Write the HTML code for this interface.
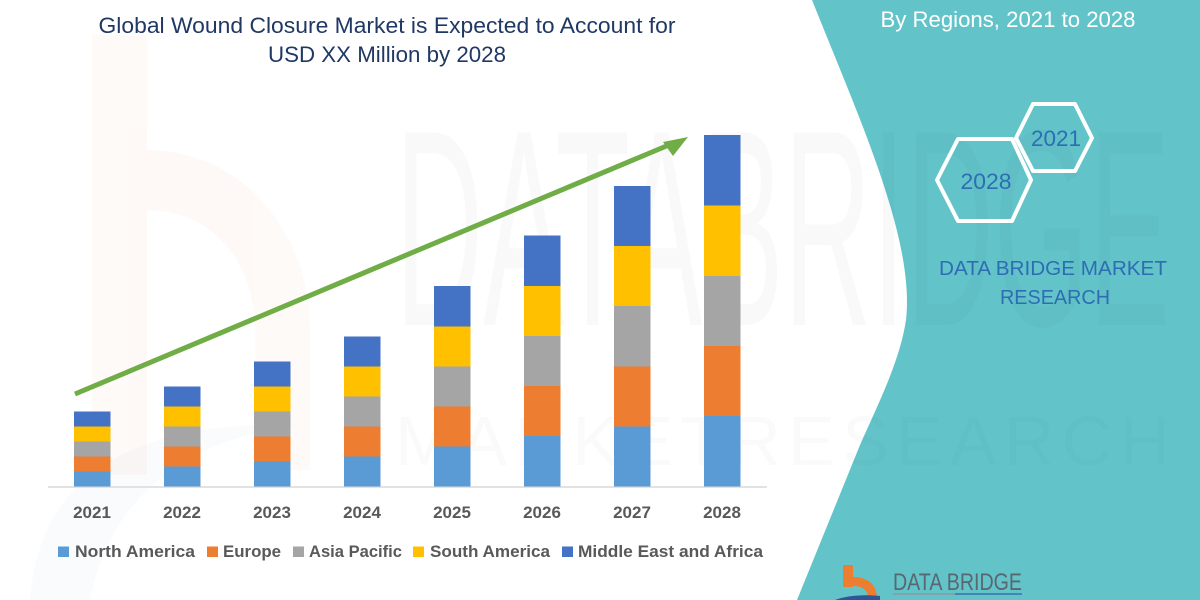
<!DOCTYPE html>
<html>
<head>
<meta charset="utf-8">
<style>
html,body{margin:0;padding:0;background:#fff;}
svg{display:block;}
text{font-family:"Liberation Sans",sans-serif;}
</style>
</head>
<body>
<svg width="1200" height="600" viewBox="0 0 1200 600" xmlns="http://www.w3.org/2000/svg">
  <rect width="1200" height="600" fill="#ffffff"/>

  <!-- faint watermark b logo on left -->
  <g opacity="0.04">
    <rect x="92" y="35" width="55" height="440" fill="#ed7d31"/>
    <path d="M147,150 C240,150 310,230 310,330 L310,470 L255,470 L255,330 C255,260 210,210 147,210 Z" fill="#ed7d31"/>
  </g>
  <path d="M30,600 C40,470 140,420 300,425 C180,440 110,500 90,600 Z" fill="#4472c4" opacity="0.03"/>

  <!-- teal shape -->
  <path d="M812,0 C860,120 915,240 906,320 C900,360 880,400 860,445 L797,600 L1200,600 L1200,0 Z" fill="#62c4c9"/>

  <!-- faint watermark text -->
  <text x="395" y="325" font-size="280" fill="#000" opacity="0.02" textLength="775" lengthAdjust="spacingAndGlyphs">DATABRIDGE</text>
  <text x="395" y="465" font-size="70" fill="#000" opacity="0.015" textLength="775" lengthAdjust="spacing">MARKETRESEARCH</text>

  <!-- title -->
  <text x="387" y="33" font-size="22" fill="#203864" text-anchor="middle" textLength="577" lengthAdjust="spacingAndGlyphs">Global Wound Closure Market is Expected to Account for</text>
  <text x="387" y="62" font-size="22" fill="#203864" text-anchor="middle" textLength="238" lengthAdjust="spacingAndGlyphs">USD XX Million by 2028</text>

  <!-- right panel texts -->
  <text x="1008" y="27" font-size="22" fill="#ffffff" text-anchor="middle" textLength="255" lengthAdjust="spacingAndGlyphs">By Regions, 2021 to 2028</text>

  <polygon points="937,180 958,139 1012,139 1031,180 1012,221 958,221" fill="none" stroke="#ffffff" stroke-width="4" stroke-linejoin="round"/>
  <polygon points="1016,138 1033,104 1075,104 1092,138 1075,171 1033,171" fill="none" stroke="#ffffff" stroke-width="4" stroke-linejoin="round"/>
  <text x="986" y="189" font-size="22" fill="#2e6db4" text-anchor="middle" textLength="51" lengthAdjust="spacingAndGlyphs">2028</text>
  <text x="1056" y="146" font-size="22" fill="#2e6db4" text-anchor="middle" textLength="50" lengthAdjust="spacingAndGlyphs">2021</text>

  <text x="1053" y="275" font-size="20" fill="#2e6db4" text-anchor="middle" textLength="228" lengthAdjust="spacingAndGlyphs">DATA BRIDGE MARKET</text>
  <text x="1055" y="304" font-size="20" fill="#2e6db4" text-anchor="middle" textLength="110" lengthAdjust="spacingAndGlyphs">RESEARCH</text>

  <!-- axis -->
  <line x1="48" y1="487" x2="767" y2="487" stroke="#d9d9d9" stroke-width="1.5"/>

  <!-- bars -->
  <g>
    <rect x="74" y="471.5" width="36.5" height="15" fill="#5b9bd5"/>
    <rect x="74" y="456.5" width="36.5" height="15" fill="#ed7d31"/>
    <rect x="74" y="441.5" width="36.5" height="15" fill="#a5a5a5"/>
    <rect x="74" y="426.5" width="36.5" height="15" fill="#ffc000"/>
    <rect x="74" y="411.5" width="36.5" height="15" fill="#4472c4"/>
    <rect x="164" y="466.5" width="36.5" height="20" fill="#5b9bd5"/>
    <rect x="164" y="446.5" width="36.5" height="20" fill="#ed7d31"/>
    <rect x="164" y="426.5" width="36.5" height="20" fill="#a5a5a5"/>
    <rect x="164" y="406.5" width="36.5" height="20" fill="#ffc000"/>
    <rect x="164" y="386.5" width="36.5" height="20" fill="#4472c4"/>
    <rect x="254" y="461.5" width="36.5" height="25" fill="#5b9bd5"/>
    <rect x="254" y="436.5" width="36.5" height="25" fill="#ed7d31"/>
    <rect x="254" y="411.5" width="36.5" height="25" fill="#a5a5a5"/>
    <rect x="254" y="386.5" width="36.5" height="25" fill="#ffc000"/>
    <rect x="254" y="361.5" width="36.5" height="25" fill="#4472c4"/>
    <rect x="344" y="456.5" width="36.5" height="30" fill="#5b9bd5"/>
    <rect x="344" y="426.5" width="36.5" height="30" fill="#ed7d31"/>
    <rect x="344" y="396.5" width="36.5" height="30" fill="#a5a5a5"/>
    <rect x="344" y="366.5" width="36.5" height="30" fill="#ffc000"/>
    <rect x="344" y="336.5" width="36.5" height="30" fill="#4472c4"/>
    <rect x="434" y="446.5" width="36.5" height="40" fill="#5b9bd5"/>
    <rect x="434" y="406.5" width="36.5" height="40" fill="#ed7d31"/>
    <rect x="434" y="366.5" width="36.5" height="40" fill="#a5a5a5"/>
    <rect x="434" y="326.5" width="36.5" height="40" fill="#ffc000"/>
    <rect x="434" y="286" width="36.5" height="40.5" fill="#4472c4"/>
    <rect x="524" y="436" width="36.5" height="50.5" fill="#5b9bd5"/>
    <rect x="524" y="386" width="36.5" height="50" fill="#ed7d31"/>
    <rect x="524" y="336" width="36.5" height="50" fill="#a5a5a5"/>
    <rect x="524" y="286" width="36.5" height="50" fill="#ffc000"/>
    <rect x="524" y="235.5" width="36.5" height="50.5" fill="#4472c4"/>
    <rect x="614" y="426.5" width="36.5" height="60" fill="#5b9bd5"/>
    <rect x="614" y="366.5" width="36.5" height="60" fill="#ed7d31"/>
    <rect x="614" y="306" width="36.5" height="60.5" fill="#a5a5a5"/>
    <rect x="614" y="246" width="36.5" height="60" fill="#ffc000"/>
    <rect x="614" y="186" width="36.5" height="60" fill="#4472c4"/>
    <rect x="704" y="416" width="36.5" height="70.5" fill="#5b9bd5"/>
    <rect x="704" y="346" width="36.5" height="70" fill="#ed7d31"/>
    <rect x="704" y="276" width="36.5" height="70" fill="#a5a5a5"/>
    <rect x="704" y="205.5" width="36.5" height="70.5" fill="#ffc000"/>
    <rect x="704" y="135" width="36.5" height="70.5" fill="#4472c4"/>
  </g>

  <!-- green arrow -->
  <line x1="75" y1="394" x2="670" y2="144.5" stroke="#70ad47" stroke-width="5"/>
  <polygon points="688,137 663,142 673,156" fill="#70ad47"/>

  <!-- x labels -->
  <g font-size="17" font-weight="bold" fill="#595959" text-anchor="middle">
    <text x="92" y="518">2021</text>
    <text x="182" y="518">2022</text>
    <text x="272" y="518">2023</text>
    <text x="362" y="518">2024</text>
    <text x="452" y="518">2025</text>
    <text x="542" y="518">2026</text>
    <text x="632" y="518">2027</text>
    <text x="722" y="518">2028</text>
  </g>

  <!-- legend -->
  <g font-size="17" font-weight="bold" fill="#595959">
    <rect x="58" y="546.5" width="11" height="10.5" fill="#5b9bd5"/>
    <text x="75" y="557" textLength="120" lengthAdjust="spacingAndGlyphs">North America</text>
    <rect x="207" y="546.5" width="11" height="10.5" fill="#ed7d31"/>
    <text x="223" y="557" textLength="58" lengthAdjust="spacingAndGlyphs">Europe</text>
    <rect x="293" y="546.5" width="11" height="10.5" fill="#a5a5a5"/>
    <text x="309" y="557" textLength="93" lengthAdjust="spacingAndGlyphs">Asia Pacific</text>
    <rect x="413" y="546.5" width="11" height="10.5" fill="#ffc000"/>
    <text x="430" y="557" textLength="120" lengthAdjust="spacingAndGlyphs">South America</text>
    <rect x="562" y="546.5" width="11" height="10.5" fill="#4472c4"/>
    <text x="578" y="557" textLength="185" lengthAdjust="spacingAndGlyphs">Middle East and Africa</text>
  </g>

  <!-- bottom logo -->
  <g>
    <rect x="843" y="565" width="10" height="22" fill="#ed7d31"/>
    <path d="M853,577 C868,577 877,585 877,598 L868,598 C868,590 862,586 853,586 Z" fill="#ed7d31"/>
    <path d="M835,600 C845,596 862,594 880,596 L880,600 Z" fill="#2f5597"/>
    <text x="893" y="590" font-size="24" fill="#5a6670" textLength="129" lengthAdjust="spacingAndGlyphs">DATA BRIDGE</text>
    <line x1="893" y1="594" x2="955" y2="594" stroke="#8a9aa0" stroke-width="1.5"/>
    <line x1="955" y1="594" x2="1022" y2="594" stroke="#3a6fb0" stroke-width="1.5"/>
  </g>
</svg>
</body>
</html>
